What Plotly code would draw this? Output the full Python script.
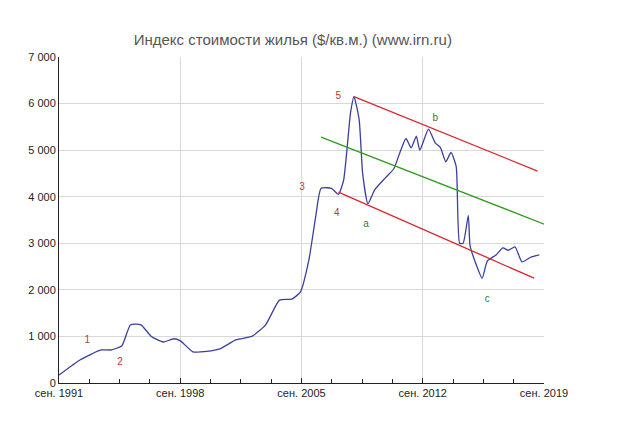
import plotly.graph_objects as go

years = [1991.67,1992.9,1994.1,1994.7,1995.3,1995.8,1996.4,1997.0,1997.7,1998.3,1998.7,1999.4,2000.2,2001.0,2001.9,2002.8,2003.6,2004.4,2005.1,2005.6,2006.1,2006.5,2006.8,2007.4,2007.8,2008.1,2008.5,2008.7,2009.0,2009.2,2009.5,2009.9,2010.5,2011.0,2011.4,2011.7,2012.0,2012.3,2012.5,2013.0,2013.4,2013.7,2014.0,2014.3,2014.6,2014.8,2015.0,2015.3,2015.4,2015.7,2016.1,2016.4,2016.9,2017.3,2017.6,2018.0,2018.4,2018.9,2019.4]
price = [170,500,710,710,800,1250,1250,1000,880,950,900,670,680,740,930,1000,1250,1780,1800,1950,2650,3600,4180,4180,4050,4350,5800,6150,5650,4500,3850,4150,4400,4600,5000,5250,5050,5300,5000,5450,5150,5050,4750,4950,4650,3000,3000,3600,2950,2600,2250,2620,2750,2900,2850,2920,2600,2700,2750]

upper_x = [2008.7, 2019.3]; upper_y = [6150, 4550]
lower_x = [2007.8, 2019.1]; lower_y = [4100, 2250]
mid_x = [2006.8, 2020.1]; mid_y = [5280, 3350]

label_text = ["1","2","3","4","5","a","b","c"]
label_x = [1993.3,1995.2,2005.7,2007.7,2007.8,2009.4,2013.4,2016.4]
label_y = [920,450,4200,3630,6160,3410,5670,1800]
label_col = ["#c0392b"]*5 + ["#3a7d1e"]*3

tick_vals = [1991.67,1998.67,2005.67,2012.67,2019.67]
tick_text = ["сен. 1991","сен. 1998","сен. 2005","сен. 2012","сен. 2019"]
y_vals = [0,1000,2000,3000,4000,5000,6000,7000]
y_text = ["0","1 000","2 000","3 000","4 000","5 000","6 000","7 000"]

fig = go.Figure()
fig.add_trace(go.Scatter(x=years, y=price, mode="lines", line=dict(color="#3b3fa0", width=1.3, shape="spline", smoothing=0.5)))
for xs, ys, c in [(upper_x, upper_y, "#d9272e"), (lower_x, lower_y, "#d9272e"), (mid_x, mid_y, "#2e9a1e")]:
    fig.add_trace(go.Scatter(x=xs, y=ys, mode="lines", line=dict(color=c, width=1.3), cliponaxis=False))
fig.add_trace(go.Scatter(x=label_x, y=label_y, mode="text", text=label_text,
                         textfont=dict(color=label_col, size=10, family="Liberation Sans"), cliponaxis=False))

fig.update_layout(
    width=640, height=422, showlegend=False,
    paper_bgcolor="white", plot_bgcolor="white",
    margin=dict(l=51, r=104, t=49, b=47, autoexpand=False),
    title=dict(text="Индекс стоимости жилья ($/кв.м.) (www.irn.ru)", x=0.445, xanchor="center", y=0.925, yanchor="middle",
               font=dict(size=15, color="#555", family="Liberation Sans")),
    font=dict(family="Liberation Sans", size=11, color="#222"),
)
fig.update_xaxes(range=[1991.67, 2019.67], tickvals=tick_vals, ticktext=tick_text, showgrid=True, gridcolor="#d8d8d8",
                 showline=True, linecolor="#222", ticks="inside", ticklen=5, tickcolor="#222", zeroline=False, automargin=False,
                 minor=dict(tickvals=[1991.67+1.75*i for i in range(17)], ticks="inside", ticklen=4, tickcolor="#222", showgrid=False))
fig.update_yaxes(range=[0, 7000], tickvals=y_vals, ticktext=y_text, showgrid=True, gridcolor="#d8d8d8", automargin=False,
                 showline=True, linecolor="#222", ticks="", zeroline=False)
fig.write_html("out.html")
